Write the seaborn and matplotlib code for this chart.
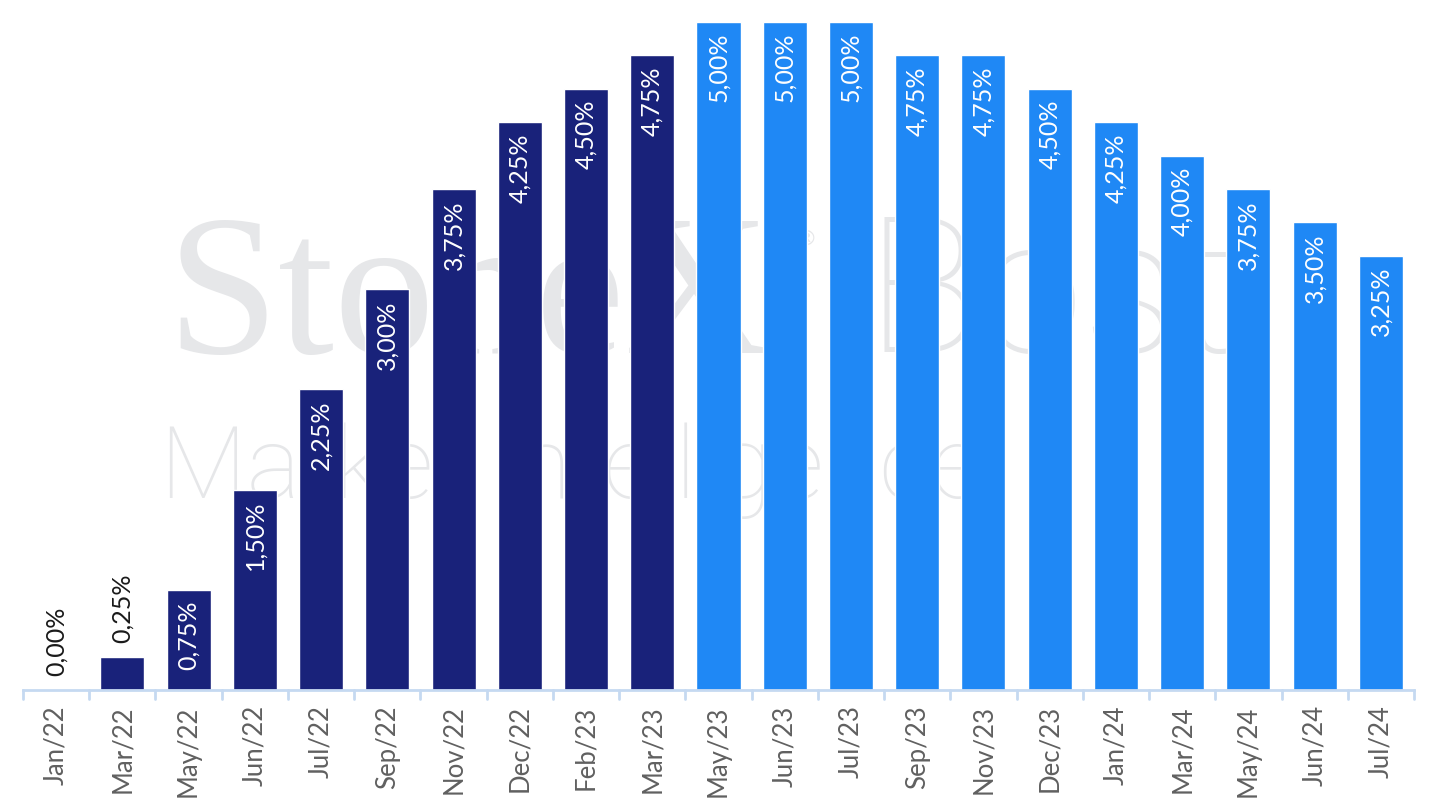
import matplotlib
matplotlib.use("Agg")
import matplotlib.pyplot as plt
import seaborn as sns
import pandas as pd

months = ["Jan/22", "Mar/22", "May/22", "Jun/22", "Jul/22", "Sep/22", "Nov/22",
          "Dec/22", "Feb/23", "Mar/23", "May/23", "Jun/23", "Jul/23", "Sep/23",
          "Nov/23", "Dec/23", "Jan/24", "Mar/24", "May/24", "Jun/24", "Jul/24"]
rates = [0.00, 0.25, 0.75, 1.50, 2.25, 3.00, 3.75, 4.25, 4.50, 4.75, 5.00,
         5.00, 5.00, 4.75, 4.75, 4.50, 4.25, 4.00, 3.75, 3.50, 3.25]
phase = ["A"] * 10 + ["B"] * 11
palette = {"A": "#19227a", "B": "#1f88f5"}

df = pd.DataFrame({"month": months, "rate": rates, "phase": phase})

sns.set_theme(style="white")
plt.rcParams["font.family"] = ["Lato", "DejaVu Sans"]

W, H = 1437, 808
fig = plt.figure(figsize=(W / 100, H / 100), dpi=100)
ax = fig.add_axes([23 / W, 118 / H, (1414 - 23) / W, (690 - 22) / H])
ax.set_zorder(1)
ax.set_facecolor("none")

# faint watermark behind the bars
wm = "#e6e7e9"
fig.text(167 / W, 1 - 353 / H, "StoneX", fontsize=145, color=wm,
         family=["Liberation Serif", "DejaVu Serif"], va="baseline", ha="left", zorder=0)
fig.text(797 / W, 1 - 245 / H, "®", fontsize=16, color=wm, va="baseline", ha="left", zorder=0)
fig.text(866 / W, 1 - 352 / H, "Bost", fontsize=136, color=wm, fontweight="light",
         family=["Roboto", "DejaVu Sans"], va="baseline", ha="left", zorder=0)
fig.text(160 / W, 1 - 498 / H, "Market Intelligence", fontsize=73, color=wm,
         fontweight="light", family=["Roboto", "DejaVu Sans"],
         va="baseline", ha="left", zorder=0)

sns.barplot(data=df, x="month", y="rate", hue="phase", palette=palette,
            dodge=False, legend=False, width=0.665, saturation=1, ax=ax)

ax.set_xlim(-0.5, len(months) - 0.5)
ax.set_ylim(0, 5.0)
ax.set_xlabel("")
ax.set_ylabel("")
ax.set_yticks([])
for s in ["top", "right", "left"]:
    ax.spines[s].set_visible(False)
ax.spines["bottom"].set_color("#c5d9f1")
ax.spines["bottom"].set_linewidth(2)

ax.set_xticks(range(len(months)))
ax.set_xticklabels(months, rotation=90, fontsize=18.5, color="#606060")
ax.tick_params(axis="x", length=0, pad=11)
for b in [i - 0.5 for i in range(len(months) + 1)]:
    ax.plot([b, b], [0, -0.065], color="#c5d9f1", lw=2, clip_on=False)

for i, v in enumerate(rates):
    lab = f"{v:.2f}%".replace(".", ",")
    if v >= 0.5:
        ax.annotate(lab, (i, v), xytext=(0, -11), textcoords="offset pixels",
                    rotation=90, ha="center", va="top", fontsize=18, color="white")
    else:
        ax.annotate(lab, (i, v), xytext=(0, 14), textcoords="offset pixels",
                    rotation=90, ha="center", va="bottom", fontsize=18, color="#1a1a1a")

fig.savefig("out.png", dpi=100)
